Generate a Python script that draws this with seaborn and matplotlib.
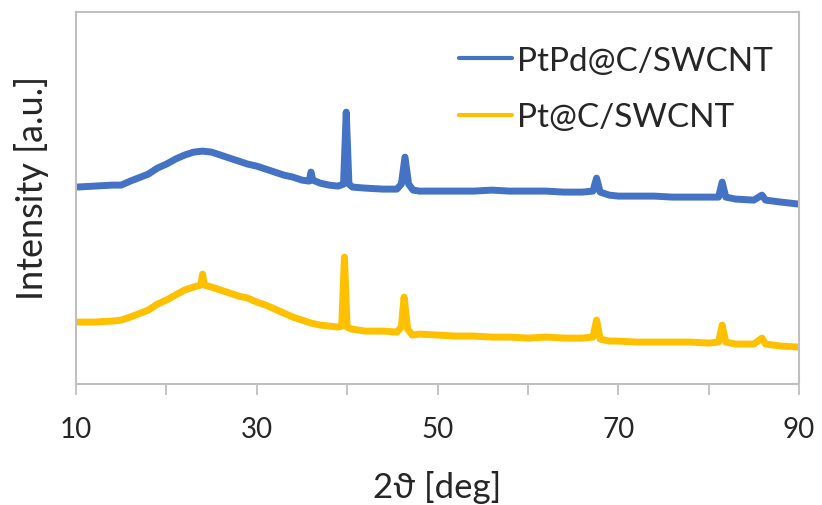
import pandas as pd
import seaborn as sns
import matplotlib.pyplot as plt
from matplotlib.lines import Line2D

# PtPd@C/SWCNT pattern (2theta in deg, intensity in a.u.)
ptpd_2theta = [10, 12, 14, 15, 16, 18, 19, 20, 21, 22, 23, 24, 25, 26, 27, 28, 29, 30,
               31, 32, 33, 34, 35, 35.8, 36.0, 36.2, 37, 38, 39, 39.6, 39.9, 40.2, 40.6,
               42, 44, 45.5, 46.0, 46.4, 46.8, 47.3, 48, 50, 52, 54, 56, 58, 60, 62, 64,
               66, 67.2, 67.6, 68.0, 69, 70, 72, 74, 76, 78, 80, 81.1, 81.5, 81.9, 83, 85,
               85.9, 86.3, 88, 90]
ptpd_int = [197, 198, 199, 199, 203, 210, 216, 220, 225, 229, 232, 233, 232, 229, 226,
            223, 220, 218, 215, 212, 209, 207, 204, 203, 212, 204, 201, 199, 198, 200,
            272, 200, 197, 196, 195, 195, 200, 227, 200, 194, 193, 193, 193, 193, 194,
            193, 193, 193, 192, 192, 193, 206, 192, 189, 188, 188, 188, 187, 187, 187,
            187, 202, 187, 185, 184, 189, 184, 182, 180]

# Pt@C/SWCNT pattern
pt_2theta = [10, 12, 14, 15, 16, 18, 19, 20, 21, 22, 23, 23.8, 24.0, 24.2, 25, 26, 27, 28,
             29, 30, 31, 32, 33, 34, 35, 36, 37, 38, 39, 39.4, 39.7, 40.0, 40.5, 42, 44,
             45.5, 46.0, 46.3, 46.7, 47.2, 48, 50, 52, 54, 56, 58, 60, 62, 64, 66, 67.2,
             67.6, 68.0, 69, 70, 72, 74, 76, 78, 80, 81.1, 81.5, 81.9, 83, 85, 85.9, 86.3,
             88, 90]
pt_int = [62, 62, 63, 64, 67, 74, 80, 84, 89, 94, 97, 99, 110, 99, 97, 94, 91, 88, 86,
          82, 79, 75, 71, 67, 64, 61, 59, 58, 57, 58, 127, 57, 55, 53, 53, 52, 57, 87, 55,
          49, 50, 49, 48, 48, 47, 47, 46, 47, 46, 46, 47, 64, 45, 43, 43, 42, 42, 42, 42,
          41, 42, 59, 42, 40, 40, 46, 40, 38, 37]

samples = ["PtPd@C/SWCNT", "Pt@C/SWCNT"]
colors = ["#4472C4", "#FFC000"]

df = pd.concat([
    pd.DataFrame({"two_theta": ptpd_2theta, "intensity": ptpd_int, "sample": samples[0]}),
    pd.DataFrame({"two_theta": pt_2theta, "intensity": pt_int, "sample": samples[1]}),
])

sns.set_style("white")
plt.rcParams["font.family"] = ["Lato", "DejaVu Sans"]

fig = plt.figure(figsize=(8.22, 5.06), dpi=100)
ax = fig.add_axes([0.0925, 0.239, 0.8795, 0.735])

sns.lineplot(data=df, x="two_theta", y="intensity", hue="sample", palette=colors,
             estimator=None, linewidth=5, legend=False, ax=ax)

ax.set_xlim(10, 90)
ax.set_ylim(0, 372)
ax.set_xticks([10, 30, 50, 70, 90])
ax.set_xticks([20, 40, 60, 80], minor=True)
ax.set_yticks([])
ax.tick_params(axis="x", which="both", direction="out", length=8, width=1.3,
               color="#BFBFBF", labelsize=20, pad=15, bottom=True)
for s in ax.spines.values():
    s.set_color("#BFBFBF")
    s.set_linewidth(1.5)

ax.set_xlabel("2\u03d1 [deg]", fontsize=25, labelpad=20)
ax.set_ylabel("Intensity [a.u.]", fontsize=26)
ax.yaxis.set_label_coords(-0.037, 0.53)

handles = [Line2D([], [], color=c, linewidth=3) for c in colors]
ax.legend(handles, samples, loc="center", bbox_to_anchor=(0.747, 0.793),
          frameon=False, fontsize=24, handlelength=1.6, handletextpad=0.15,
          labelspacing=0.8, borderpad=0)

fig.savefig("out.png", dpi=100)
